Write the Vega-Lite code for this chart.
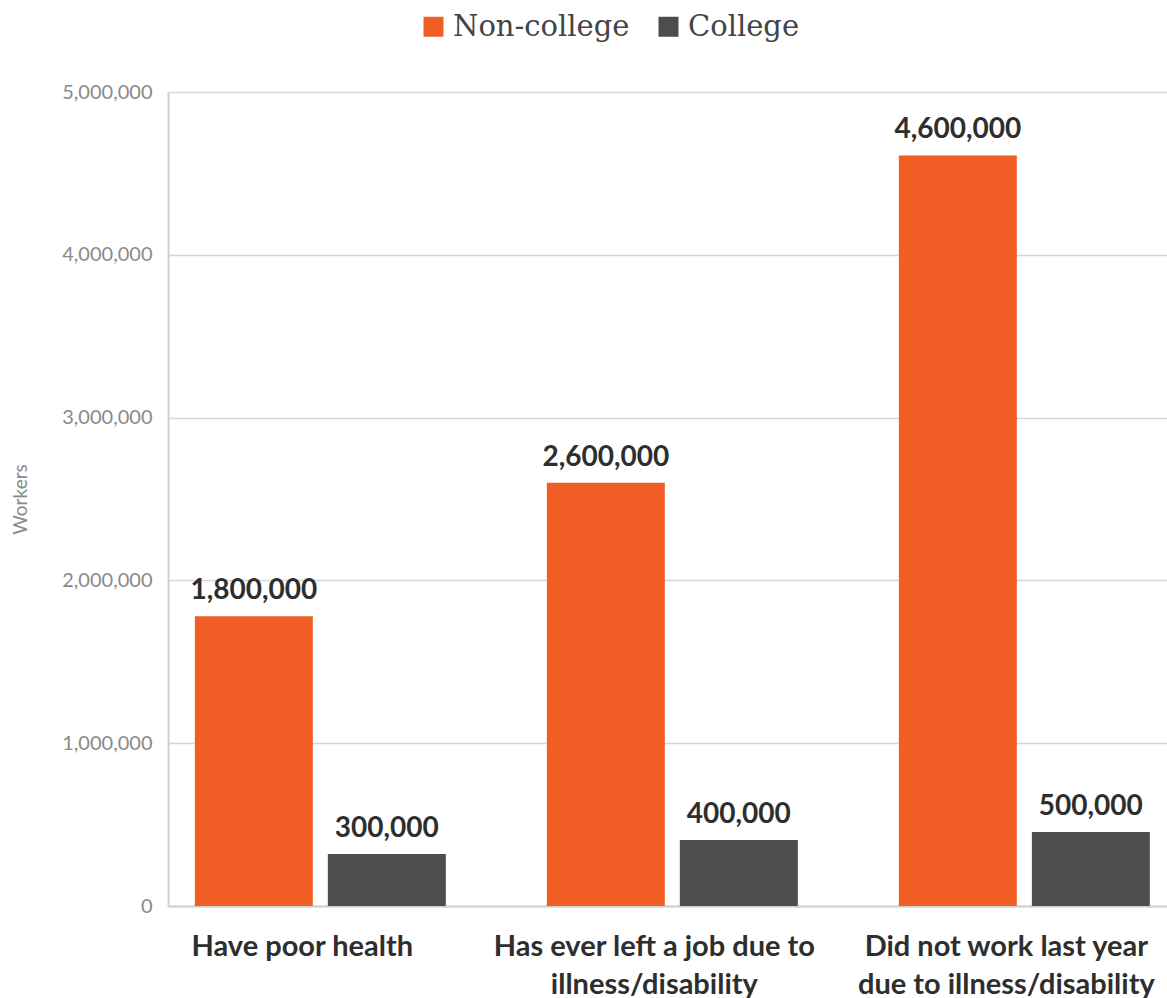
{
  "$schema": "https://vega.github.io/schema/vega-lite/v6.json",
  "autosize": {"type": "none"},
  "width": 999,
  "height": 814,
  "padding": {"left": 168, "top": 92, "right": 0, "bottom": 92},
  "background": "white",
  "data": {
    "values": [
      {"category": "Have poor health", "group": "Non-college", "value": 1780000, "label": "1,800,000"},
      {"category": "Have poor health", "group": "College", "value": 320000, "label": "300,000"},
      {"category": "Has ever left a job due to illness/disability", "group": "Non-college", "value": 2600000, "label": "2,600,000"},
      {"category": "Has ever left a job due to illness/disability", "group": "College", "value": 405000, "label": "400,000"},
      {"category": "Did not work last year due to illness/disability", "group": "Non-college", "value": 4610000, "label": "4,600,000"},
      {"category": "Did not work last year due to illness/disability", "group": "College", "value": 455000, "label": "500,000"}
    ]
  },
  "encoding": {
    "x": {
      "field": "category",
      "type": "nominal",
      "sort": ["Have poor health", "Has ever left a job due to illness/disability", "Did not work last year due to illness/disability"],
      "scale": {"paddingInner": 0.287, "paddingOuter": 0.0625, "align": 0.61},
      "axis": {
        "title": null,
        "labelAngle": 0,
        "ticks": false,
        "domain": true,
        "domainColor": "#cfcfcf",
        "domainWidth": 2,
        "labelFont": "Lato",
        "labelFontWeight": "bold",
        "labelFontSize": 29,
        "labelColor": "#2e2e2e",
        "labelPadding": 26,
        "labelLineHeight": 38,
        "labelLimit": 0,
        "labelOffset": -18,
        "labelBaseline": "top",
        "labelExpr": "datum.label == 'Has ever left a job due to illness/disability' ? ['Has ever left a job due to', 'illness/disability'] : datum.label == 'Did not work last year due to illness/disability' ? ['Did not work last year', 'due to illness/disability'] : datum.label"
      }
    },
    "xOffset": {
      "field": "group",
      "type": "nominal",
      "sort": ["Non-college", "College"],
      "scale": {"paddingInner": 0.113, "paddingOuter": 0}
    },
    "y": {
      "field": "value",
      "type": "quantitative",
      "scale": {"domain": [0, 5000000]},
      "axis": {
        "title": "Workers",
        "titleFont": "Lato",
        "titleFontWeight": "normal",
        "titleFontSize": 19,
        "titleColor": "#8a8a8a",
        "titlePadding": 31,
        "values": [0, 1000000, 2000000, 3000000, 4000000, 5000000],
        "format": ",d",
        "ticks": false,
        "domain": true,
        "domainColor": "#cfcfcf",
        "domainWidth": 2,
        "grid": true,
        "gridColor": "#d6d6d6",
        "gridWidth": 1.5,
        "labelFont": "Lato",
        "labelFontSize": 20,
        "labelColor": "#8a8a8a",
        "labelPadding": 16
      }
    }
  },
  "layer": [
    {
      "mark": {"type": "bar"},
      "encoding": {
        "color": {
          "field": "group",
          "type": "nominal",
          "scale": {"domain": ["Non-college", "College"], "range": ["#F05E26", "#4D4D4D"]},
          "legend": {
            "title": null,
            "orient": "none",
            "direction": "horizontal",
            "legendX": 251,
            "legendY": -80,
            "symbolType": "square",
            "symbolSize": 400,
            "symbolStrokeWidth": 0,
            "labelFont": "DejaVu Serif",
            "labelFontSize": 29,
            "labelColor": "#444444",
            "labelOffset": 5,
            "labelLimit": 0,
            "columnPadding": 24
          }
        }
      }
    },
    {
      "mark": {
        "type": "text",
        "baseline": "bottom",
        "dy": -11,
        "font": "Lato",
        "fontWeight": "bold",
        "fontSize": 28,
        "color": "#2e2e2e"
      },
      "encoding": {
        "text": {"field": "label", "type": "nominal"}
      }
    }
  ],
  "config": {
    "view": {"stroke": null}
  }
}
